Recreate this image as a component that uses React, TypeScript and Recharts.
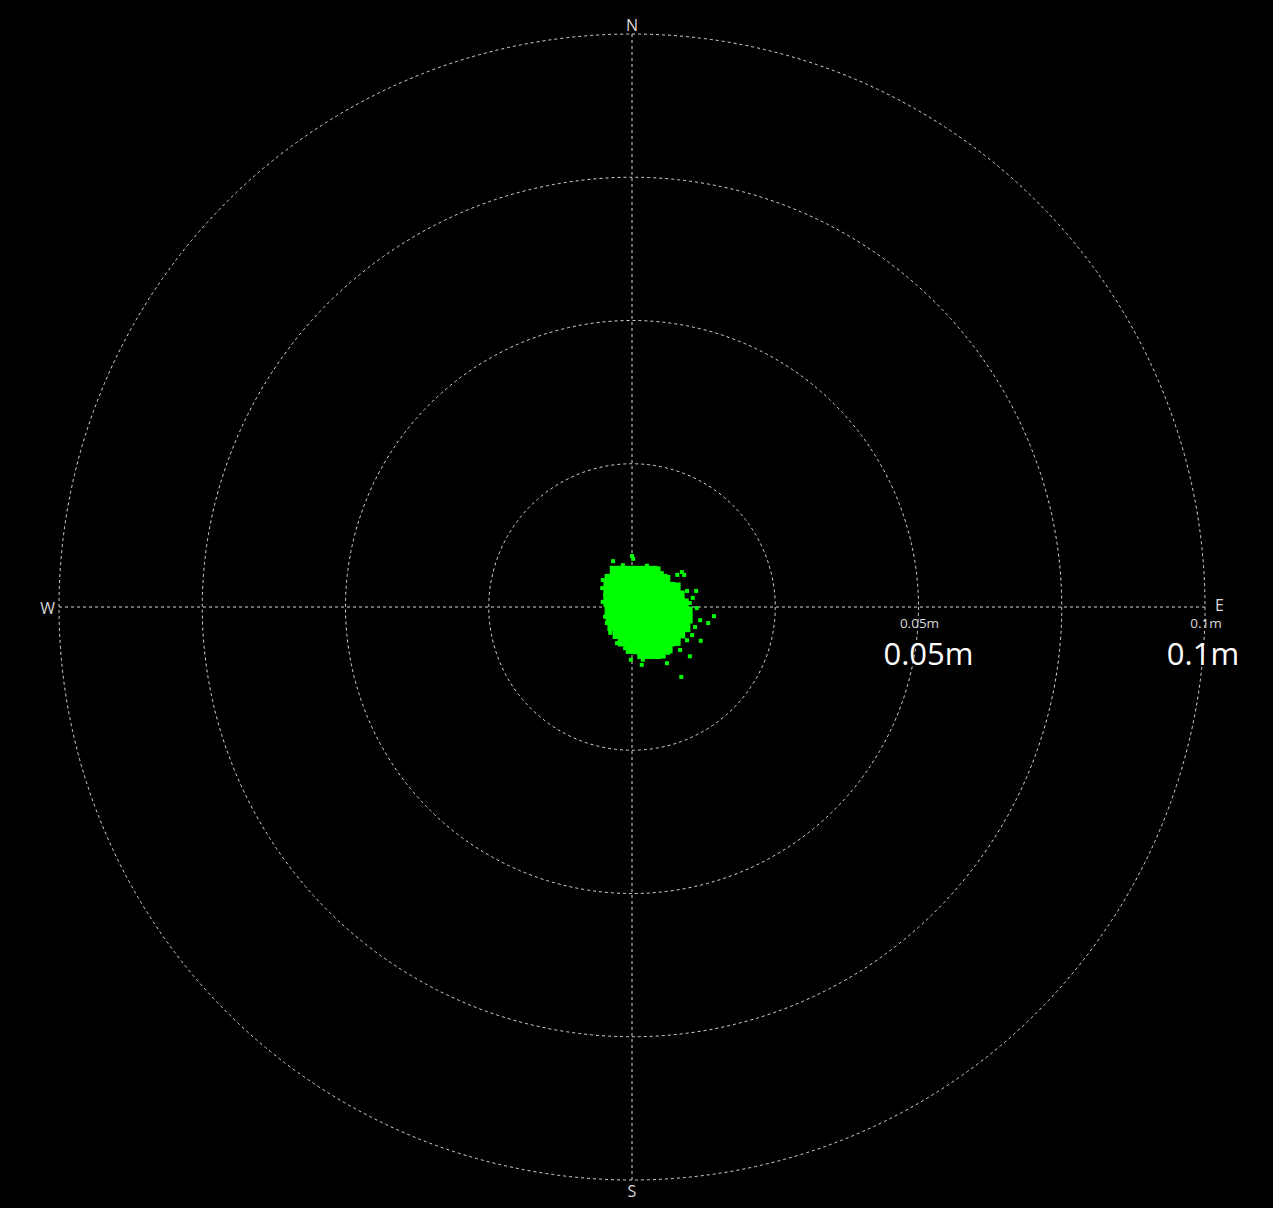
import React from 'react';
import {
  RadarChart, PolarGrid, PolarAngleAxis, PolarRadiusAxis, Radar,
  ScatterChart, Scatter, XAxis, YAxis,
} from 'recharts';

// Compass directions around the plot
const directions = ['N', 'E', 'S', 'W'];
const directionRows = directions.map((dir) => ({ dir, value: 0 }));

// Ring radii (mm) and their labels
const ringTicksMm = [25, 50, 75, 100];
const ringLabels = ['', '0.05m', '', '0.1m'];

// Dense core of position fixes: [east mm, north mm]
const coreFixes: [number, number][] = [
  [-3.1, 6.4], [-1.8, 6.4], [-0.4, 6.4], [1.0, 6.4], [2.3, 6.4], [3.6, 6.4], [4.2, 6.3],
  [-4.0, 5.0], [-2.7, 5.0], [-1.3, 5.0], [0.0, 5.0], [1.4, 5.0], [2.8, 5.0], [4.1, 5.0], [5.4, 5.0], [5.9, 4.8],
  [-4.2, 3.6], [-2.9, 3.6], [-1.5, 3.6], [-0.1, 3.6], [1.3, 3.6], [2.7, 3.6], [4.0, 3.6], [5.4, 3.6], [6.7, 3.6], [7.7, 3.5],
  [-4.2, 2.2], [-2.8, 2.2], [-1.4, 2.2], [0.0, 2.2], [1.4, 2.2], [2.8, 2.2], [4.2, 2.2], [5.6, 2.2], [7.0, 2.2], [8.4, 2.1],
  [-4.2, 0.8], [-2.8, 0.8], [-1.4, 0.8], [0.0, 0.8], [1.4, 0.8], [2.8, 0.8], [4.2, 0.8], [5.6, 0.8], [7.0, 0.8], [8.4, 0.8], [9.1, 0.7],
  [-4.0, -0.6], [-2.6, -0.6], [-1.2, -0.6], [0.2, -0.6], [1.6, -0.6], [3.0, -0.6], [4.4, -0.6], [5.8, -0.6], [7.2, -0.6], [8.6, -0.6], [9.8, -0.7],
  [-3.8, -2.0], [-2.4, -2.0], [-1.0, -2.0], [0.4, -2.0], [1.8, -2.0], [3.2, -2.0], [4.6, -2.0], [6.0, -2.0], [7.4, -2.0], [8.8, -2.0], [9.8, -2.1],
  [-3.5, -3.4], [-2.1, -3.4], [-0.7, -3.4], [0.7, -3.4], [2.1, -3.4], [3.5, -3.4], [4.9, -3.4], [6.3, -3.4], [7.7, -3.4], [9.0, -3.4], [9.4, -3.6],
  [-2.6, -4.8], [-1.2, -4.8], [0.2, -4.8], [1.6, -4.8], [3.0, -4.8], [4.4, -4.8], [5.8, -4.8], [7.2, -4.8], [8.5, -4.7],
  [-1.7, -6.1], [-0.3, -6.1], [1.1, -6.1], [2.5, -6.1], [3.9, -6.1], [5.3, -6.1], [6.7, -6.1], [7.7, -6.0],
  [-0.3, -7.4], [1.1, -7.4], [2.5, -7.4], [3.9, -7.4], [5.3, -7.4], [6.3, -7.3],
  [1.7, -8.3], [3.0, -8.3], [4.3, -8.3], [5.1, -8.2],
];

// Scattered outlying fixes: [east mm, north mm]
const fringeFixes: [number, number][] = [
  [-3.3, 8.0], [-1.6, 7.3], [0.2, 8.4], [2.6, 7.2], [7.9, 5.6], [9.1, 5.6],
  [11.2, 2.8], [9.6, 2.8], [14.3, -1.6], [13.3, -2.8], [12.0, -5.9], [10.1, -8.6],
  [8.6, -12.2], [6.1, -9.8], [1.7, -10.1], [-0.2, -9.2], [-2.6, -6.3], [-5.1, 4.7],
  [-4.7, 2.1], [-4.7, -1.7], [-4.4, -2.8], [11.9, -2.3], [11.0, -3.5], [10.5, -4.9],
  [9.6, -5.8], [-2.6, -5.2], [-1.2, -7.2], [0.5, -7.9], [4.9, -8.4], [8.7, 6.1],
  [7.9, 3.8], [10.6, 1.6], [11.3, -0.2], [10.1, 0.7], [-0.3, 6.8], [1.4, 6.1],
  [4.0, 6.5], [5.2, 5.9], [-5.2, 3.3], [-5.1, 0.9], [-3.8, -4.5], [0.0, 8.9],
  [1.9, -9.2], [3.1, -8.7], [6.3, -8.0], [8.4, -7.5],
];

const coreData = coreFixes.map(([x, y]) => ({ x, y }));
const fringeData = fringeFixes.map(([x, y]) => ({ x, y }));

const W = 1273;
const H = 1208;
const CX = 632;
const CY = 607;
const R = 573;

const GRID = '#d8d8d8';
const GREEN = '#00ff00';
const FONT = '"Open Sans", "DejaVu Sans", sans-serif';

const dirStyle: Record<string, { anchor: 'start' | 'middle' | 'end'; dx: number; dy: number }> = {
  N: { anchor: 'middle', dx: 0, dy: 5 },
  E: { anchor: 'start', dx: 2, dy: 4 },
  S: { anchor: 'middle', dx: 0, dy: 9 },
  W: { anchor: 'end', dx: 4, dy: 7 },
};

const DirTick = (props: any) => {
  const { x, y, payload } = props;
  const s = dirStyle[payload.value] || { anchor: 'middle', dx: 0, dy: 0 };
  return (
    <text x={x + s.dx} y={y + s.dy} textAnchor={s.anchor} fill={GRID} fontSize={16} fontFamily={FONT}>
      {payload.value}
    </text>
  );
};

const bigDx: Record<string, number> = { '0.05m': 10, '0.1m': -2 };

const RingTick = (props: any) => {
  const { x, y, payload } = props;
  const idx = ringTicksMm.indexOf(payload.value);
  const label = idx >= 0 ? ringLabels[idx] : '';
  if (!label) return <g />;
  return (
    <g>
      <text x={x + 1} y={y + 21} textAnchor="middle" fill={GRID} fontSize={13.5} fontFamily={FONT}>
        {label}
      </text>
      <text x={x + (bigDx[label] || 0)} y={y + 58} textAnchor="middle" fill="#ffffff" fontSize={31} fontFamily={FONT}>
        {label}
      </text>
    </g>
  );
};

const Square = (size: number) => (props: any) => {
  const { cx, cy } = props;
  if (cx == null || cy == null) return <g />;
  return <rect x={cx - size / 2} y={cy - size / 2} width={size} height={size} fill={GREEN} />;
};

export default function App() {
  return (
    <div style={{ position: 'absolute', left: 0, top: 0, width: W, height: H, background: '#000000' }}>
      <div style={{ position: 'absolute', left: 0, top: 0 }}>
        <RadarChart
          width={W}
          height={H}
          data={directionRows}
          cx={CX}
          cy={CY}
          innerRadius={0}
          outerRadius={R}
          startAngle={90}
          endAngle={-270}
          margin={{ top: 0, right: 0, bottom: 0, left: 0 }}
        >
          <PolarGrid gridType="circle" stroke={GRID} strokeDasharray="3 3" strokeWidth={1} />
          <PolarAngleAxis dataKey="dir" tick={DirTick} axisLine={false} tickLine={false} />
          <PolarRadiusAxis
            angle={0}
            type="number"
            domain={[0, 100]}
            ticks={ringTicksMm}
            tick={RingTick}
            axisLine={false}
            tickLine={false}
          />
          <Radar dataKey="value" stroke="none" fill="none" dot={false} isAnimationActive={false} />
        </RadarChart>
      </div>
      <div style={{ position: 'absolute', left: 0, top: 0 }}>
        <ScatterChart
          width={W}
          height={H}
          margin={{ top: CY - R, right: W - (CX + R), bottom: H - (CY + R), left: CX - R }}
        >
          <XAxis type="number" dataKey="x" domain={[-100, 100]} hide allowDataOverflow />
          <YAxis type="number" dataKey="y" domain={[-100, 100]} hide allowDataOverflow />
          <Scatter data={coreData} fill={GREEN} shape={Square(9)} isAnimationActive={false} />
          <Scatter data={fringeData} fill={GREEN} shape={Square(4)} isAnimationActive={false} />
        </ScatterChart>
      </div>
    </div>
  );
}
